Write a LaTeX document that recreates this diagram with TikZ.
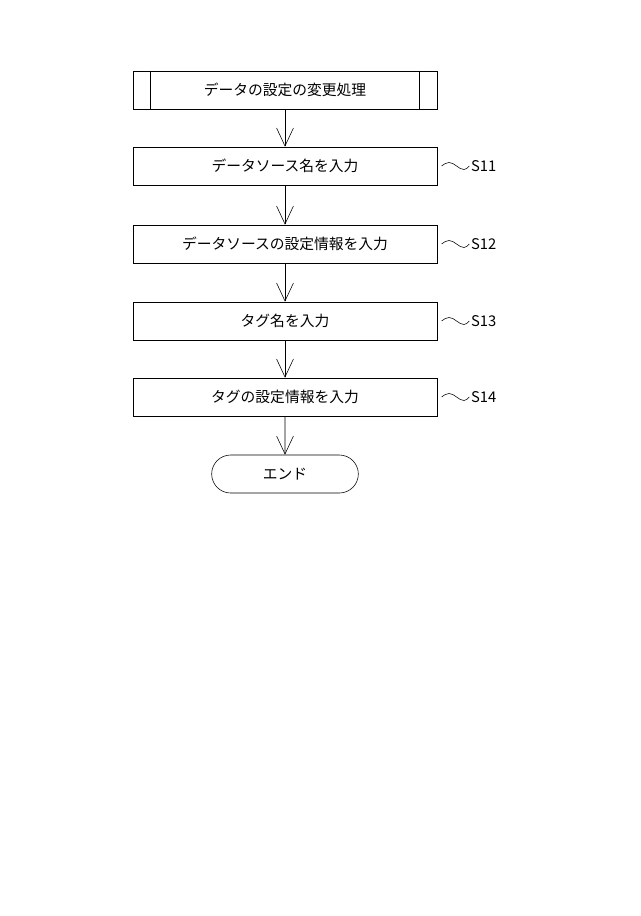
\documentclass[tikz,border=0pt]{standalone}
\usepackage{fontspec}
\setmainfont{Noto Sans CJK JP}
\usetikzlibrary{arrows.meta, positioning, shapes.misc}

\begin{document}
\begin{tikzpicture}[
    x=0.025cm, y=-0.025cm,
    every node/.style={font=\fontsize{10.5pt}{12pt}\selectfont},
    stepbox/.style={rectangle, draw, thin, minimum width=7.6cm, minimum height=0.95cm},
    endbox/.style={rounded rectangle, draw, thin, minimum width=3.9cm, minimum height=0.95cm},
    arrow/.style={-{Straight Barb[length=0.45cm, width=0.42cm]}, thin}
]
    \useasboundingbox (0,0) rectangle (640,916);

    % Start: predefined process
    \node[stepbox] (b0) at (285,90) {データの設定の変更処理};
    \draw ([xshift=0.45cm]b0.north west) -- ([xshift=0.45cm]b0.south west);
    \draw ([xshift=-0.45cm]b0.north east) -- ([xshift=-0.45cm]b0.south east);

    % Steps
    \node[stepbox] (b1) at (285,166) {データソース名を入力};
    \node[stepbox] (b2) at (285,244) {データソースの設定情報を入力};
    \node[stepbox] (b3) at (285,321) {タグ名を入力};
    \node[stepbox] (b4) at (285,397) {タグの設定情報を入力};
    \node[endbox] (b5) at (285,474) {エンド};

    % Flow arrows
    \foreach \i/\j in {0/1, 1/2, 2/3, 3/4, 4/5} {
        \draw[arrow] (b\i) -- (b\j);
    }

    % Step labels
    \foreach \i/\lab in {1/S11, 2/S12, 3/S13, 4/S14} {
        \node[right=0.8cm of b\i.east, inner sep=1pt] (l\i) {\lab};
        \draw ([xshift=3pt]b\i.east) sin +(7.5,-3.5) cos +(7.5,3.5) sin +(7.5,3.5) cos (l\i.west);
    }
\end{tikzpicture}
\end{document}
